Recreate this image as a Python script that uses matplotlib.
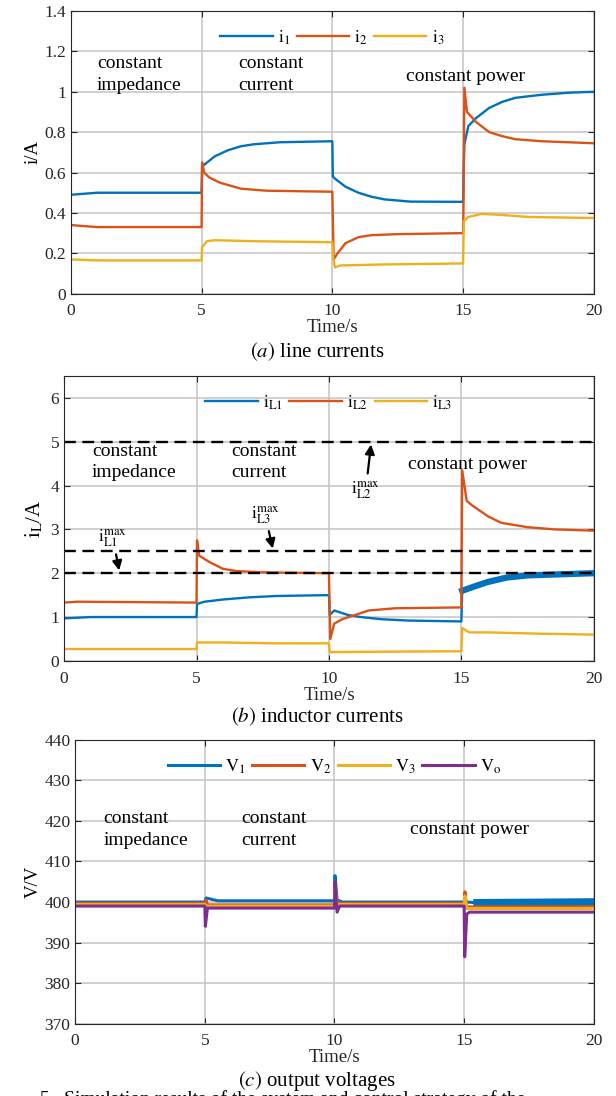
import numpy as np
import matplotlib
matplotlib.use("Agg")
import matplotlib.pyplot as plt

plt.rcParams['font.family'] = ['Liberation Serif', 'DejaVu Serif']
plt.rcParams['mathtext.fontset'] = 'stix'

#### Donnees ####
C1, C2, C3, C4 = '#0072BD', '#D95319', '#EDB120', '#7E2F8E'

# (a) line currents
t_i1 = [0, 0.5, 1, 5, 5.02, 5.5, 6, 6.5, 7, 8, 10, 10.02, 10.1, 10.5, 11, 11.5, 12, 13, 15,
        15.02, 15.05, 15.2, 15.5, 16, 16.5, 17, 18, 19, 20]
i1 = [0.49, 0.495, 0.50, 0.50, 0.63, 0.68, 0.71, 0.73, 0.74, 0.75, 0.755, 0.58, 0.57, 0.53, 0.50,
      0.48, 0.467, 0.456, 0.455, 0.6, 0.74, 0.83, 0.87, 0.92, 0.95, 0.97, 0.985, 0.995, 1.0]
t_i2 = [0, 1, 5, 5.02, 5.1, 5.3, 5.7, 6.5, 7.5, 10, 10.05, 10.2, 10.5, 11, 11.5, 12.5, 15,
        15.01, 15.05, 15.15, 15.5, 16, 16.5, 17, 18, 19, 20]
i2 = [0.34, 0.33, 0.33, 0.65, 0.60, 0.575, 0.55, 0.52, 0.51, 0.505, 0.17, 0.20, 0.25, 0.28, 0.29,
      0.295, 0.30, 0.36, 1.02, 0.90, 0.85, 0.80, 0.78, 0.765, 0.755, 0.75, 0.745]
t_i3 = [0, 1, 5, 5.02, 5.2, 5.5, 7, 10, 10.03, 10.1, 10.3, 12, 15, 15.03, 15.2, 15.7, 16.5,
        17.5, 20]
i3 = [0.17, 0.165, 0.165, 0.23, 0.26, 0.265, 0.26, 0.255, 0.18, 0.13, 0.14, 0.145, 0.15, 0.36,
      0.38, 0.395, 0.39, 0.38, 0.375]

# (b) inductor currents
t_L1 = [0, 1, 5, 5.02, 5.3, 6, 7, 8, 10, 10.03, 10.2, 10.7, 11.2, 12, 13, 15, 15.03, 15.5, 16,
        16.7, 17.5, 20]
iL1 = [0.97, 1.0, 1.0, 1.3, 1.35, 1.4, 1.45, 1.48, 1.5, 1.05, 1.15, 1.05, 1.0, 0.95, 0.92, 0.9,
       1.6, 1.7, 1.8, 1.9, 1.95, 2.0]
t_L2 = [0, 0.5, 5, 5.02, 5.1, 5.5, 6, 6.5, 7.5, 10, 10.05, 10.2, 10.5, 11, 11.5, 12.5, 15, 15.03,
        15.2, 15.4, 16, 16.5, 17.5, 18.5, 20]
iL2 = [1.33, 1.35, 1.33, 2.75, 2.4, 2.25, 2.1, 2.05, 2.02, 2.0, 0.5, 0.85, 0.95, 1.05, 1.15, 1.2,
       1.22, 4.35, 3.65, 3.55, 3.3, 3.15, 3.05, 3.0, 2.97]
t_L3 = [0, 5, 5.02, 6, 8, 10, 10.03, 12, 15, 15.03, 15.3, 16, 18, 20]
iL3 = [0.27, 0.27, 0.42, 0.42, 0.40, 0.40, 0.20, 0.21, 0.22, 0.75, 0.65, 0.65, 0.62, 0.60]
lim_L = [2.0, 2.5, 5.0]

# (c) output voltages
t_V1 = [0, 5, 5.05, 5.5, 10, 10.02, 10.1, 10.3, 15, 15.1, 15.5, 20]
V1 = [400.0, 400.0, 401.0, 400.3, 400.3, 406.5, 400.5, 400.0, 400.0, 400.0, 399.8, 400.0]
t_V2 = [0, 5, 5.05, 5.1, 10, 10.02, 10.1, 15, 15.03, 15.1, 20]
V2 = [399.7, 399.7, 400.5, 399.3, 399.3, 404.0, 399.7, 399.7, 402.5, 398.8, 398.8]
t_V3 = [0, 5, 5.05, 10, 10.02, 10.1, 15, 15.03, 15.1, 20]
V3 = [399.4, 399.4, 399.0, 399.0, 403.0, 399.4, 399.4, 401.5, 398.4, 398.4]
t_Vo = [0, 5, 5.02, 5.1, 10, 10.02, 10.1, 10.2, 15, 15.02, 15.1, 15.2, 20]
Vo = [399.0, 399.0, 394.0, 398.5, 398.5, 405.0, 397.5, 399.0, 399.0, 386.5, 397.0, 397.5, 397.5]
######################


fig = plt.figure(figsize=(6.16, 10.96), dpi=100)

def prep(ax, ylim, yticks):
    ax.set_xlim(0, 20)
    ax.set_ylim(*ylim)
    ax.set_xticks([0, 5, 10, 15, 20])
    ax.set_yticks(yticks)
    ax.grid(True, color='#c4c4c4', lw=1.1)
    ax.set_axisbelow(True)
    ax.tick_params(direction='in', top=True, right=True, labelsize=12.5, length=4,
                   color='#262626', labelcolor='#262626')
    ax.tick_params(axis='x', pad=7)
    for s in ax.spines.values():
        s.set_color('#262626')
    ax.set_xlabel('Time/s', fontsize=13.5, labelpad=0, color='#262626')

def regions(ax, p1, p2, p3):
    ax.text(p1[0], p1[1], 'constant\nimpedance', fontsize=14, va='top', linespacing=1.35)
    ax.text(p2[0], p2[1], 'constant\ncurrent', fontsize=14, va='top', linespacing=1.35)
    ax.text(p3[0], p3[1], 'constant power', fontsize=14, va='top')

def leg(ax, n):
    ax.legend(loc='upper center', bbox_to_anchor=(0.5, 0.995), ncol=n, frameon=False,
              fontsize=13, handlelength=2.9, columnspacing=0.35, handletextpad=0.3)

arrow = dict(arrowstyle='-|>', color='k', lw=1.6, mutation_scale=14)

#### (a) ####
ax1 = fig.add_axes([0.115, 0.732, 0.849, 0.258])
ax1.plot(t_i1, i1, color=C1, lw=1.7, label=r'$\mathrm{i}_1$')
ax1.plot(t_i2, i2, color=C2, lw=1.7, label=r'$\mathrm{i}_2$')
ax1.plot(t_i3, i3, color=C3, lw=1.7, label=r'$\mathrm{i}_3$')
prep(ax1, (0, 1.4), np.arange(0, 1.41, 0.2))
ax1.set_yticklabels(['0', '0.2', '0.4', '0.6', '0.8', '1', '1.2', '1.4'])
ax1.set_ylabel('i/A', fontsize=13.5, labelpad=2)
leg(ax1, 3)
regions(ax1, (1.0, 1.18), (6.4, 1.18), (12.8, 1.12))
fig.text(0.515, 0.679, r'$(a)$ line currents', fontsize=15, ha='center', va='center')

#### (b) ####
ax2 = fig.add_axes([0.104, 0.397, 0.860, 0.260])
ax2.plot(t_L1, iL1, color=C1, lw=1.7, label=r'$\mathrm{i}_{\mathrm{L1}}$')
ax2.plot(t_L1[-6:], iL1[-6:], color=C1, lw=4.5)
ax2.plot(t_L2, iL2, color=C2, lw=1.7, label=r'$\mathrm{i}_{\mathrm{L2}}$')
ax2.plot(t_L3, iL3, color=C3, lw=1.7, label=r'$\mathrm{i}_{\mathrm{L3}}$')
for y in lim_L:
    ax2.axhline(y, color='k', ls='--', lw=1.7, dashes=(5, 2.8))
prep(ax2, (0, 6.5), range(0, 7))
ax2.set_ylabel(r'$\mathrm{i}_{\mathrm{L}}$/A', fontsize=15, labelpad=4)
leg(ax2, 3)
regions(ax2, (1.05, 4.98), (6.3, 4.98), (13.0, 4.68))
ax2.annotate(r'$\mathrm{i}_{\mathrm{L1}}^{\mathrm{max}}$', xy=(2.1, 2.0), xytext=(1.3, 2.72),
             fontsize=13, arrowprops=arrow)
ax2.annotate(r'$\mathrm{i}_{\mathrm{L3}}^{\mathrm{max}}$', xy=(7.9, 2.5), xytext=(7.05, 3.25),
             fontsize=13, arrowprops=arrow)
ax2.annotate(r'$\mathrm{i}_{\mathrm{L2}}^{\mathrm{max}}$', xy=(11.6, 5.0), xytext=(10.85, 3.82),
             fontsize=13, arrowprops=arrow)
fig.text(0.515, 0.346, r'$(b)$ inductor currents', fontsize=15, ha='center', va='center')

#### (c) ####
ax3 = fig.add_axes([0.122, 0.066, 0.842, 0.259])
ax3.plot(t_V1, V1, color=C1, lw=2.2, label=r'$\mathrm{V}_1$')
ax3.plot(t_V1[-2:], V1[-2:], color=C1, lw=5.5)
ax3.plot(t_V2, V2, color=C2, lw=2.2, label=r'$\mathrm{V}_2$')
ax3.plot(t_V3, V3, color=C3, lw=2.2, label=r'$\mathrm{V}_3$')
ax3.plot(t_Vo, Vo, color=C4, lw=2.2, label=r'$\mathrm{V}_\mathrm{o}$')
prep(ax3, (370, 440), range(370, 441, 10))
ax3.set_ylabel('V/V', fontsize=13.5, labelpad=2)
leg(ax3, 4)
regions(ax3, (1.1, 422.6), (6.4, 422.6), (12.9, 419.9))
fig.text(0.515, 0.014, r'$(c)$ output voltages', fontsize=15, ha='center', va='center')
fig.text(0.065, -0.003, '5.  Simulation results of the system and control strategy of the',
         fontsize=14, va='center')

plt.savefig('out.png', dpi=100)
